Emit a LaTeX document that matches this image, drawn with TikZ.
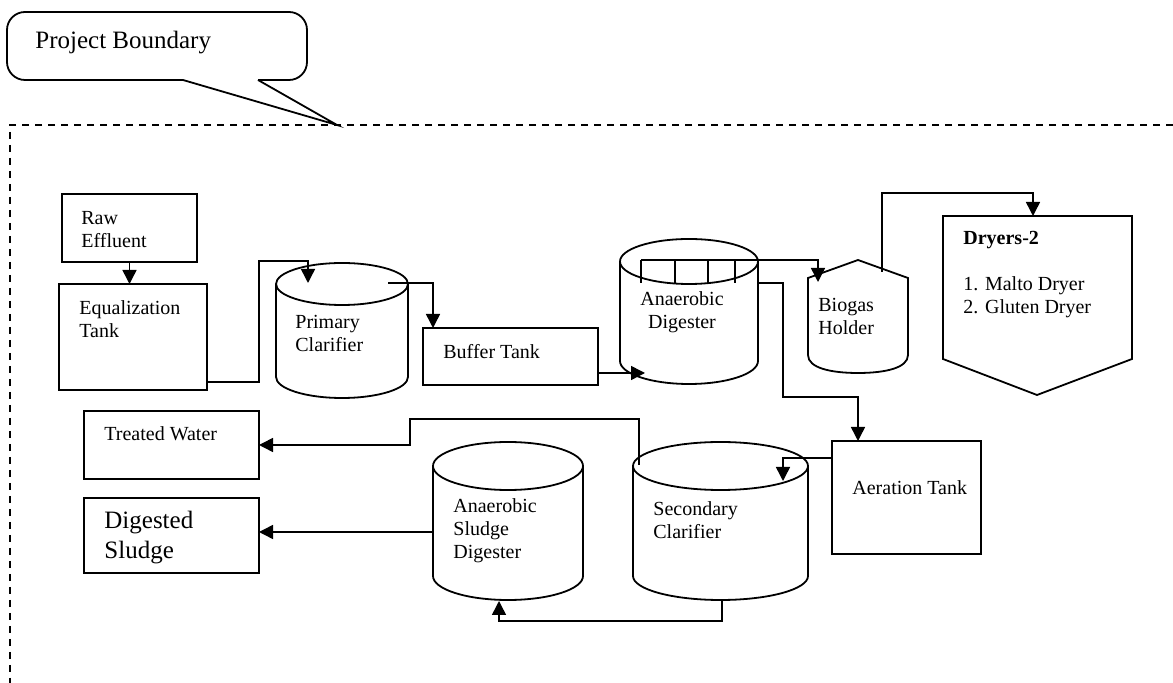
\documentclass[tikz,border=0pt]{standalone}
\usepackage{fontspec}
\setmainfont{Liberation Serif}
\usetikzlibrary{arrows.meta}
\begin{document}
\begin{tikzpicture}[x=0.5pt,y=-0.5pt,
  unit/.style={line width=0.9pt},
  box/.style={draw,line width=0.9pt,rectangle,anchor=north west,inner sep=0pt,outer sep=0pt},
  pipe/.style={line width=0.75pt},
  flow/.style={line width=0.75pt,-{Triangle[length=7pt,width=7pt]}},
  bound/.style={line width=0.75pt,dash pattern=on 3.7pt off 2.8pt},
  lbl/.style={anchor=west,align=left,inner sep=0pt,font=\fontsize{10}{11.5}\selectfont},
  big/.style={anchor=west,align=left,inner sep=0pt,font=\fontsize{12.5}{15}\selectfont}]
\useasboundingbox (0,0) rectangle (1173,683);

% project boundary
\draw[bound] (1173,125) -- (10,125) -- (10,683);
\coordinate (tip) at (337,125);
\draw[unit] (183,80) [rounded corners=9pt] -- (7,80) -- (7,12) -- (307,12) -- (307,80) -- (258,80);
\draw[unit] (183,80) -- (tip) -- (258,80);
\node[big,font=\fontsize{12.5}{15}\selectfont] (pbl) at (35,43) {Project Boundary};

% boxes
\node[box,minimum width=67.5pt,minimum height=34pt] (raw) at (62,194) {};
\node[box,minimum width=74pt,minimum height=53pt] (eq) at (59,284) {};
\node[box,minimum width=87.5pt,minimum height=28.5pt] (buf) at (423,328) {};
\node[box,minimum width=74.5pt,minimum height=56.5pt] (aer) at (832,441) {};
\node[box,minimum width=87.5pt,minimum height=34pt] (tw) at (84,411) {};
\node[box,minimum width=87.5pt,minimum height=37.5pt] (ds) at (84,498) {};

% cylinders
% primary clarifier
\draw[unit] (342,284) ellipse [x radius=66, y radius=21];
\draw[unit] (276,284) -- (276,377) arc [start angle=180, end angle=0, x radius=66, y radius=21] -- (408,284);
% anaerobic digester
\draw[unit] (689,261.5) ellipse [x radius=69, y radius=22.5];
\draw[unit] (620,261.5) -- (620,361) arc [start angle=180, end angle=0, x radius=69, y radius=23] -- (758,261.5);
% anaerobic sludge digester
\draw[unit] (508,466) ellipse [x radius=75, y radius=24];
\draw[unit] (433,466) -- (433,576) arc [start angle=180, end angle=0, x radius=75, y radius=24] -- (583,466);
% secondary clarifier
\draw[unit] (720.5,466) ellipse [x radius=87.5, y radius=24];
\draw[unit] (633,466) -- (633,576) arc [start angle=180, end angle=0, x radius=87.5, y radius=24] -- (808,466);

% biogas holder
\draw[unit] (808,355) -- (808,278) -- (858,260) -- (908,278) -- (908,355)
  .. controls (908,368) and (885,373) .. (858,373)
  .. controls (831,373) and (808,368) .. (808,355) -- cycle;
% dryers
\draw[unit] (943,216) -- (1132,216) -- (1132,359) -- (1037,395) -- (943,359) -- cycle;

% ports
\coordinate (pcin) at (308,283);
\coordinate (pcout) at (388,283);
\coordinate (adin) at (645,373);
\coordinate (adpl) at (641,260);
\coordinate (adout) at (758,283);
\coordinate (bgin) at (818,282);
\coordinate (bgout) at (882,272);
\coordinate (dryin) at (1033,216);
\coordinate (aein) at (858,441);
\coordinate (aeout) at (832,458);
\coordinate (scin) at (783,481);
\coordinate (sctop) at (639,465);
\coordinate (scbot) at (722,600);
\coordinate (asdbot) at (499,601);
\coordinate (asdl) at (433,532);

% digester partitions
\foreach \px in {641,675,708,735} \draw[pipe] (\px,260) -- (\px,283);

% connectors
\draw[flow] (raw.south) -- (raw.south |- eq.north);
\draw[flow] (eq.east |- 0,382) -| (259,261) -| (pcin);
\draw[flow] (pcout) -| ([xshift=5pt]buf.north west);
\draw[flow] ([yshift=6pt]buf.south east) -- (adin);
\draw[flow] (adpl) -| (bgin);
\draw[flow] (adout) -| (783,397) -| (aein);
\draw[flow] (bgout) -- ++(0,-79) -| (dryin);
\draw[flow] (aeout) -| (scin);
\draw[flow] (scbot) -- ++(0,21) -| (asdbot);
\draw[flow] (sctop) |- (410,419) |- (tw.east);
\draw[flow] (asdl) -- (asdl -| ds.east);

% labels
\node[lbl] (lraw) at (81,229.5) {Raw\\Effluent};
\node[lbl] (leq) at (79,319.5) {Equalization\\Tank};
\node[lbl] (lpc) at (295,333.5) {Primary\\Clarifier};
\node[lbl] (lbuf) at (443,352) {Buffer Tank};
\node[lbl,anchor=center,align=center] (lad) at (682,312) {Anaerobic\\Digester};
\node[lbl] (lbg) at (818,316.5) {Biogas\\Holder};
\node[lbl,font=\fontsize{10}{11.5}\selectfont\bfseries] (ldry) at (963,240) {Dryers-2};
\node[lbl] (ldl) at (963,297) {1. Malto Dryer\\2. Gluten Dryer};
\node[lbl] (lae) at (852,488) {Aeration Tank};
\node[lbl] (ltw) at (104,434) {Treated Water};
\node[big] (lds) at (104,538) {Digested\\Sludge};
\node[lbl] (lasd) at (453,531) {Anaerobic\\Sludge\\Digester};
\node[lbl] (lsc) at (653,520) {Secondary\\Clarifier};
\end{tikzpicture}
\end{document}
